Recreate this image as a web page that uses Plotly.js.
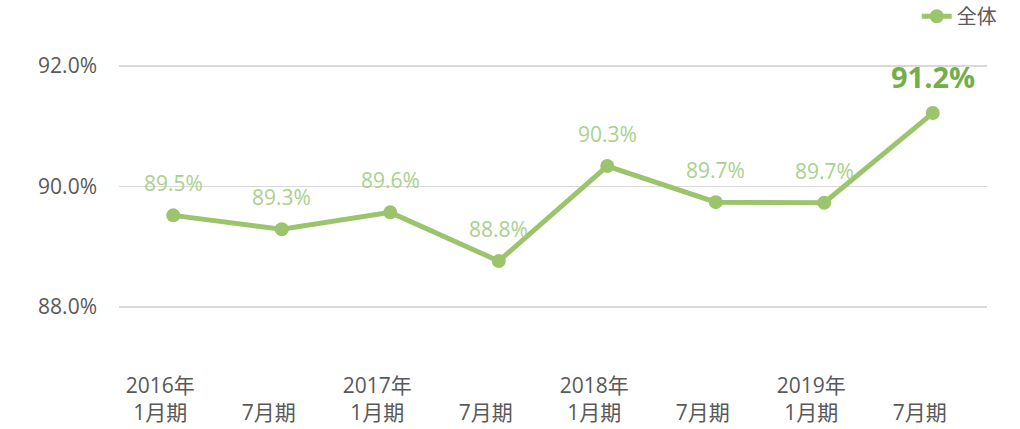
<!DOCTYPE html>
<html><head><meta charset="utf-8">
<script src="https://cdn.plot.ly/plotly-3.0.1.min.js"></script>
<style>html,body{margin:0;padding:0;background:#fff}</style>
</head><body>
<div id="chart" style="width:1020px;height:429px"></div>
<script>
const categories = ["2016年<br>1月期", "\u00a0<br>7月期", "2017年<br>1月期", "\u00a0<br>7月期", "2018年<br>1月期", "\u00a0<br>7月期", "2019年<br>1月期", "\u00a0<br>7月期"];
const values = [89.52, 89.29, 89.57, 88.76, 90.34, 89.74, 89.73, 91.22];
const seriesName = "全体";
const yTicks = [88, 90, 92];
const yTickLabels = ["88.0%", "90.0%", "92.0%"];

const FONT = '"Open Sans", "Noto Sans CJK JP", sans-serif';
const xIdx = categories.map((c, i) => i);

const annotations = values.map((v, i) => {
  const last = i === values.length - 1;
  return {
    x: i, y: v, xref: 'x', yref: 'y',
    text: last ? '<b>' + v.toFixed(1) + '%</b>' : v.toFixed(1) + '%',
    showarrow: false,
    yshift: last ? 37 : 32,
    font: last ? {family: FONT, size: 29, color: '#74ae48'} : {family: FONT, size: 21, color: '#a9d18e'}
  };
});

const trace = {
  x: xIdx, y: values, type: 'scatter', mode: 'lines+markers', name: seriesName,
  line: {color: '#9cc46c', width: 5},
  marker: {color: '#9cc46c', size: 14}
};

const layout = {
  width: 1020, height: 429,
  margin: {l: 119, r: 33, t: 18, b: 62, autoexpand: false},
  paper_bgcolor: '#fff', plot_bgcolor: '#fff',
  font: {family: FONT, color: '#595959', size: 20},
  showlegend: true,
  legend: {x: 1.017, xanchor: 'right', y: 1.005, yanchor: 'middle', yref: 'paper', orientation: 'h', font: {family: FONT, size: 20, color: '#595959'}, bgcolor: 'rgba(0,0,0,0)'},
  xaxis: {
    range: [-0.5, 7.5], tickmode: 'array', tickvals: xIdx, ticktext: categories,
    showgrid: false, zeroline: false, showline: false, ticks: '',
    ticklabelshift: -13, ticklabelstandoff: 4,
    tickfont: {family: FONT, size: 21, color: '#595959'}
  },
  yaxis: {
    range: [87.0, 92.8], tickmode: 'array', tickvals: yTicks, ticktext: yTickLabels,
    showgrid: true, gridcolor: '#d9d9d9', gridwidth: 1.5, zeroline: false, showline: false, ticks: '',
    ticklabelstandoff: 21,
    tickfont: {family: FONT, size: 21, color: '#595959'}
  },
  annotations: annotations
};

Plotly.newPlot('chart', [trace], layout, {displayModeBar: false, staticPlot: true});
</script>
</body></html>
